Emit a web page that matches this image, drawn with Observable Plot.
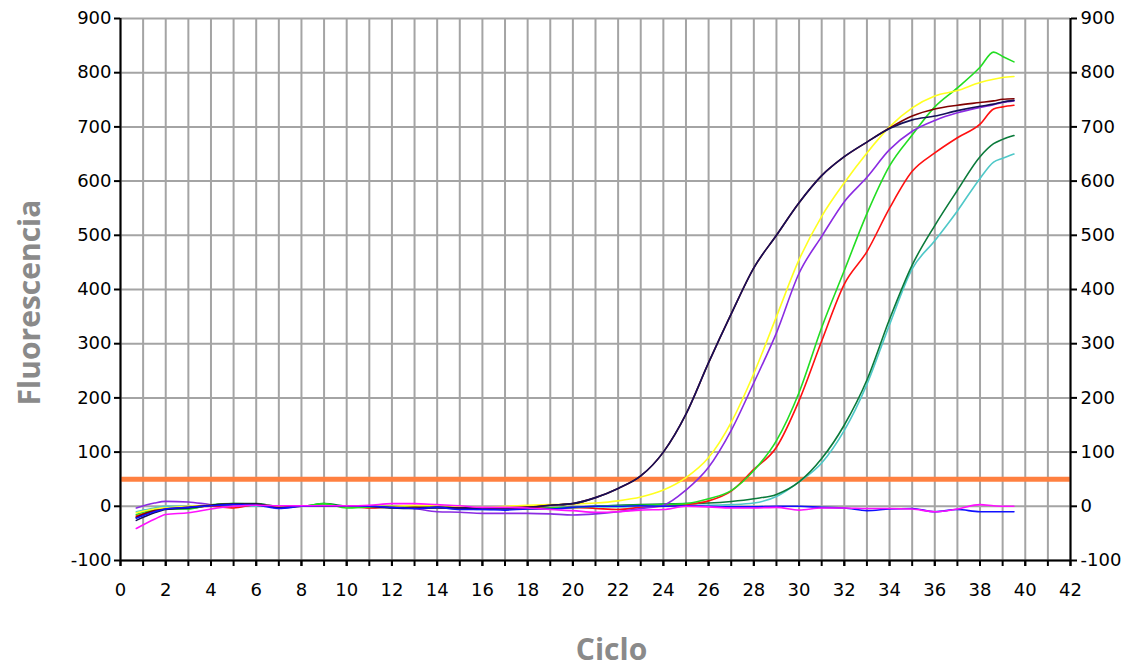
<!DOCTYPE html>
<html><head><meta charset="utf-8">
<script src="https://cdn.jsdelivr.net/npm/d3@7"></script>
<script src="https://cdn.jsdelivr.net/npm/@observablehq/plot@0.6"></script>
<style>body{margin:0;background:#fff} #chart svg{display:block}</style>
</head><body><div id="chart"></div>
<script>
const cycles = [0.7, 1.5, 2, 3, 4, 5, 6, 7, 8, 9, 10, 11, 12, 13, 14, 15, 16, 17, 18, 19, 20, 21, 22, 23, 24, 25, 26, 27, 28, 29, 30, 31, 32, 33, 34, 35, 36, 37, 38, 38.6, 39, 39.5];

const navy     = [-26,-12,-6,-3,2,4,4,-3,0,0,1,0,-3,-4,-2,-3,-4,-4,-2,2,5,16,33,56,100,170,265,355,440,500,560,610,645,672,697,713,720,730,738,742,746,749];
const maroon   = [-20,-8,-5,-2,2,4,4,-2,0,0,1,0,-2,-3,-2,-3,-3,-3,-2,2,5,16,33,56,100,170,265,355,440,500,560,610,645,672,698,720,733,740,745,748,751,752];
const yellow   = [-12,-5,-3,0,2,3,2,0,1,0,0,0,0,2,1,0,-2,0,2,3,4,6,10,17,30,53,90,155,245,350,455,535,597,652,700,735,757,767,782,788,791,793];
const violet   = [-3,6,9,8,3,1,2,0,1,0,0,0,-1,-4,-10,-11,-13,-13,-13,-14,-16,-14,-10,-4,2,30,72,140,228,320,430,498,562,607,658,692,712,726,736,741,745,748];
const green    = [-15,-6,-4,-5,3,5,4,0,0,5,-3,-1,0,-2,-1,-3,-5,-4,-5,-3,-2,0,1,2,3,5,14,29,66,121,210,330,435,540,628,685,737,772,810,838,830,820];
const red      = [-18,-8,-4,-2,0,-3,3,0,0,0,0,-3,-1,0,-2,-3,-4,-3,-2,-4,-2,-4,-6,-2,0,3,10,28,68,109,195,305,410,470,550,618,652,680,705,733,737,740];
const darkGreen= [-20,-8,-5,-4,2,5,5,0,0,5,0,-2,-2,-3,-3,-4,-5,-5,-4,-3,-2,0,2,3,4,5,6,9,14,22,45,88,150,233,345,445,518,583,645,669,677,684];
const cyan     = [-10,-3,0,0,0,1,0,0,0,0,0,0,0,-2,-3,-4,-6,-5,-4,-3,-2,-1,-1,0,1,2,2,3,6,18,45,80,140,225,335,438,490,545,605,635,642,650];
const blue     = [-22,-10,-5,-2,1,3,2,-4,0,1,1,0,-2,-4,-2,-6,-6,-7,-5,-5,-2,0,0,1,0,1,0,-1,-1,0,0,-2,-3,-8,-5,-4,-10,-6,-10,-10,-10,-10];
const magenta  = [-41,-24,-15,-12,-5,0,2,1,1,1,1,2,5,5,3,1,-2,-2,-3,-6,-8,-11,-10,-7,-6,0,-1,-3,-3,-2,-7,-3,-3,-4,-4,-5,-10,-5,3,1,0,0];

const seriesNames = ["cian", "verde oscuro", "rojo", "verde", "violeta", "amarillo", "granate", "azul marino", "azul", "magenta"];
const seriesValues = [cyan, darkGreen, red, green, violet, yellow, maroon, navy, blue, magenta];
const seriesColors = ["#4fc8c8", "#0a7a3a", "#ff1010", "#22dd22", "#8a2be2", "#ffff20", "#800000", "#14105a", "#1010ff", "#ff10ff"];

const threshold = [50];
const xTicksAll = d3.range(0, 43, 1);
const xTickLabels = d3.range(0, 43, 2);
const yTicks = d3.range(-100, 901, 100);

const data = seriesNames.flatMap((name, i) =>
  cycles.map((c, j) => ({serie: name, ciclo: c, fluor: seriesValues[i][j]})));

const plain = (d) => String(d);

const chart = Plot.plot({
  width: 1129, height: 669,
  marginLeft: 120, marginRight: 59, marginTop: 18, marginBottom: 109,
  style: {fontFamily: "'DejaVu Sans', Verdana, sans-serif", fontSize: "18px", color: "#000", background: "#fff", overflow: "visible"},
  x: {domain: [0, 42]},
  y: {domain: [-100, 900]},
  color: {domain: seriesNames, range: seriesColors},
  marks: [
    Plot.gridX(xTicksAll, {stroke: "#a4a4a4", strokeOpacity: 1, strokeWidth: 2}),
    Plot.gridY(yTicks, {stroke: "#a4a4a4", strokeOpacity: 1, strokeWidth: 2}),
    Plot.ruleY(threshold, {stroke: "#ff8040", strokeWidth: 5}),
    Plot.line(data, {x: "ciclo", y: "fluor", z: "serie", stroke: "serie", strokeWidth: 1.6, curve: "monotone-x"}),
    Plot.ruleX([0, 42], {stroke: "#000", strokeWidth: 2}),
    Plot.ruleY([-100], {stroke: "#000", strokeWidth: 2}),
    Plot.axisY(yTicks, {anchor: "left", tickSize: 6, tickPadding: 3, tickFormat: plain, label: null, stroke: "#000", strokeWidth: 2}),
    Plot.axisY(yTicks, {anchor: "right", tickSize: 6, tickPadding: 4, tickFormat: plain, label: null, stroke: "#000", strokeWidth: 2}),
    Plot.axisX(xTicksAll, {anchor: "bottom", tickSize: 6, tickFormat: () => "", label: null, stroke: "#000", strokeWidth: 2}),
    Plot.axisX(xTickLabels, {anchor: "bottom", tickSize: 6, tickPadding: 17, tickFormat: plain, label: null, stroke: "#000", strokeWidth: 2}),
    Plot.text(["Ciclo"], {frameAnchor: "bottom", lineAnchor: "middle", dx: 16, dy: 90, fontSize: 30, fontWeight: "bold", fill: "#8a8a8a", fontFamily: "'Open Sans', sans-serif"}),
    Plot.text(["Fluorescencia"], {frameAnchor: "left", textAnchor: "middle", lineAnchor: "middle", rotate: -90, dx: -90, dy: 13, fontSize: 30, fontWeight: "bold", fill: "#8a8a8a", fontFamily: "'Open Sans', sans-serif"})
  ]
});
document.getElementById("chart").append(chart);
</script>
</body></html>
